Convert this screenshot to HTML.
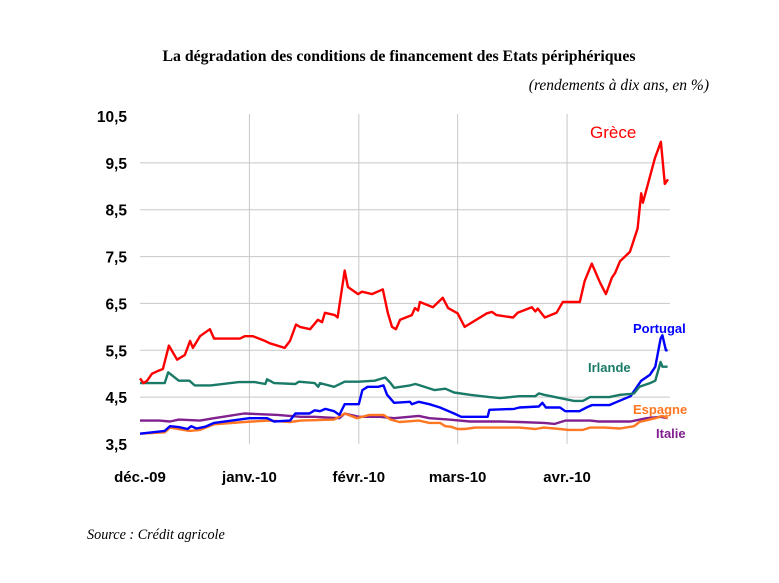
<!DOCTYPE html>
<html><head><meta charset="utf-8"><style>
html,body{margin:0;padding:0;background:#fff;}
svg{display:block;}
</style></head><body>
<svg width="779" height="583" xmlns="http://www.w3.org/2000/svg">
<text x="399" y="61" text-anchor="middle" font-family="Liberation Serif, serif" font-weight="bold" font-size="15.6" textLength="473" lengthAdjust="spacingAndGlyphs">La dégradation des conditions de financement des Etats périphériques</text>
<text x="709" y="90" text-anchor="end" font-family="Liberation Serif, serif" font-style="italic" font-size="15.5">(rendements à dix ans, en %)</text>
<text x="87" y="539" font-family="Liberation Serif, serif" font-style="italic" font-size="14.2">Source : Crédit agricole</text>
<g id="grid"></g>
<g id="yaxis"></g>
<g id="xaxis"></g>
<g id="series"></g>
<g id="labels"></g>
</svg>
<script>
const yTicks = [3.5, 4.5, 5.5, 6.5, 7.5, 8.5, 9.5, 10.5];
const yTickLabels = ["3,5","4,5","5,5","6,5","7,5","8,5","9,5","10,5"];
const monthDays = [0, 31, 62, 90, 121];
const monthLabels = ["déc.-09","janv.-10","févr.-10","mars-10","avr.-10"];

const greceDays = [0,1,2,3.4,4.8,6.5,8.2,10.5,12.7,14.2,15,17,19.8,21,28.3,29.7,32,35.4,36.8,41,42.5,44.2,45.3,48.2,50.4,51.6,52.4,55.2,56,58,58.9,61.8,62.9,65.7,68.8,70.2,71.4,72.5,73.7,77,77.9,78.8,79.3,83,85.8,87.3,90,92,93.5,98.3,99.7,101,105.7,107,111,112,112.7,114.7,118,119.8,124.6,126,128,130.3,132,133.7,134.6,136,138.8,141,142,142.5,145.9,147.6,148.7,149.6];
const greceVals = [4.9,4.8,4.85,5.0,5.05,5.1,5.6,5.3,5.4,5.7,5.55,5.8,5.95,5.75,5.75,5.8,5.8,5.7,5.65,5.55,5.7,6.05,6.0,5.95,6.15,6.1,6.3,6.25,6.2,7.2,6.85,6.7,6.75,6.7,6.8,6.3,6.0,5.95,6.15,6.25,6.4,6.35,6.53,6.42,6.62,6.4,6.29,6.0,6.07,6.29,6.32,6.25,6.2,6.3,6.42,6.33,6.39,6.2,6.3,6.53,6.53,6.98,7.35,6.95,6.7,7.05,7.15,7.4,7.6,8.1,8.85,8.65,9.6,9.95,9.05,9.15];

const irlDays = [0,7,8,11,14,15.5,20,28,32.5,35.5,36,38,44,45,49.5,50.5,51,55,58,62,66.5,69.5,71,72,76.5,78,79,83.5,86.5,89,93.5,99,102,105,107.5,112,113,114.5,119,123,125.5,127.5,133,136,139,140,141.5,144.5,146,147.5,148,149.5];
const irlVals = [4.8,4.8,5.03,4.85,4.85,4.75,4.75,4.82,4.82,4.78,4.88,4.8,4.78,4.83,4.8,4.72,4.8,4.72,4.83,4.83,4.85,4.92,4.8,4.7,4.75,4.78,4.76,4.65,4.68,4.6,4.55,4.5,4.48,4.5,4.52,4.52,4.58,4.55,4.48,4.42,4.42,4.5,4.5,4.55,4.57,4.58,4.72,4.8,4.85,5.25,5.15,5.15];

const porDays = [0,7,8.5,11,13.5,14.5,16,18.5,21,31,36,38,42.5,44,48,49.5,51,52.5,55,56.5,58,62,63,64.5,67.5,69,70,72,76.5,77,79,82,85,89,91,98.5,99,106,107.5,113,114,115,119,120.5,124.5,126.5,128,133,134.5,139,142,144.5,146,147.5,148,149,149.5];
const porVals = [3.72,3.78,3.88,3.86,3.82,3.88,3.83,3.87,3.95,4.05,4.05,3.98,4.0,4.15,4.15,4.22,4.2,4.25,4.2,4.12,4.35,4.35,4.65,4.72,4.72,4.75,4.55,4.38,4.4,4.35,4.4,4.35,4.28,4.15,4.08,4.08,4.23,4.25,4.28,4.3,4.38,4.28,4.28,4.2,4.2,4.28,4.33,4.33,4.38,4.52,4.85,4.98,5.15,5.75,5.82,5.5,5.5];

const espDays = [0,7,8.5,14,17,21,29.5,36.5,42.5,45.5,55,58,61.5,65,69,71,73.5,79,82,85,86.5,88,90,92,95,105,107.5,112,114.5,117.5,121.5,125.5,127.5,131.5,136,140,141.5,146,148,149.5];
const espVals = [3.72,3.75,3.85,3.78,3.8,3.92,3.97,4.0,3.97,4.0,4.02,4.15,4.05,4.12,4.12,4.02,3.97,4.0,3.95,3.95,3.88,3.87,3.82,3.82,3.85,3.85,3.85,3.82,3.85,3.83,3.8,3.8,3.85,3.85,3.83,3.88,3.97,4.05,4.1,4.05];

const itaDays = [0,5.5,8.5,11,17,21,29.5,39,45.5,49.5,56.5,58,62,68,72,79,82,87.5,93.5,102,107.5,114.5,117.5,120.5,127.5,130,139,143.5,147.5,149.5];
const itaVals = [4.0,4.0,3.98,4.02,4.0,4.05,4.15,4.12,4.08,4.08,4.05,4.15,4.08,4.08,4.05,4.1,4.05,4.02,3.98,3.98,3.97,3.95,3.93,4.0,4.0,3.98,3.98,4.05,4.08,4.05];

const NS = "http://www.w3.org/2000/svg";
const X0 = 140, X1 = 668, Y0 = 444, Y1 = 116;
const xScale = d => X0 + d * (X1 - X0) / 149.6;
const yScale = v => Y0 - (v - 3.5) * (Y0 - Y1) / 7;

function mk(tag, attrs, parent) {
  const e = document.createElementNS(NS, tag);
  for (const k in attrs) e.setAttribute(k, attrs[k]);
  parent.appendChild(e);
  return e;
}
const grid = document.getElementById('grid');
const yaxis = document.getElementById('yaxis');
const xaxis = document.getElementById('xaxis');
const series = document.getElementById('series');
const labels = document.getElementById('labels');

yTicks.forEach((t, i) => {
  const y = yScale(t);
  if (i > 0 && i < yTicks.length - 1) {
    const g = mk('line', {x1: X0, x2: 670, y1: y, y2: y, stroke: '#c8c8c8', 'stroke-width': 1}, grid);
    
    
  }
  const tx = mk('text', {x: 127, y: y + 6, 'text-anchor': 'end', 'font-family': 'Liberation Sans, sans-serif', 'font-weight': 'bold', 'font-size': 15.5}, yaxis);
  tx.textContent = yTickLabels[i];
  
  
});
monthDays.forEach((d, i) => {
  const x = xScale(d);
  if (i > 0) {
    const g = mk('line', {x1: x, x2: x, y1: 114, y2: Y0, stroke: '#c8c8c8', 'stroke-width': 1}, grid);
    
    
  }
  const tx = mk('text', {x: x, y: 482, 'text-anchor': 'middle', 'font-family': 'Liberation Sans, sans-serif', 'font-weight': 'bold', 'font-size': 15}, xaxis);
  tx.textContent = monthLabels[i];
  
  
});

function drawLine(days, vals, color, name) {
  const pts = days.map((d, i) => xScale(d).toFixed(1) + ',' + yScale(vals[i]).toFixed(1)).join(' ');
  const p = mk('polyline', {points: pts, fill: 'none', stroke: color, 'stroke-width': 2.4, 'stroke-linejoin': 'round'}, series);
  
  
}
drawLine(itaDays, itaVals, '#80208f', 'line-italie');
drawLine(espDays, espVals, '#ff7722', 'line-espagne');
drawLine(porDays, porVals, '#0000ff', 'line-portugal');
drawLine(irlDays, irlVals, '#1a7a68', 'line-irlande');
drawLine(greceDays, greceVals, '#ff0000', 'line-grece');

function lab(x, y, txt, color, size, name, bold) {
  const t = mk('text', {x: x, y: y, fill: color, 'font-family': 'Liberation Sans, sans-serif', 'font-size': size, 'font-weight': bold ? 'bold' : 'normal'}, labels);
  t.textContent = txt;
  
  
}
lab(590, 138, 'Grèce', '#ff0000', 17, 'label-grece', false);
lab(633, 333, 'Portugal', '#0000ff', 13, 'label-portugal', true);
lab(588, 372, 'Irlande', '#1a7a68', 13, 'label-irlande', true);
lab(633, 414, 'Espagne', '#ff7722', 13, 'label-espagne', true);
lab(656, 438, 'Italie', '#80208f', 13, 'label-italie', true);
</script>
</body></html>
